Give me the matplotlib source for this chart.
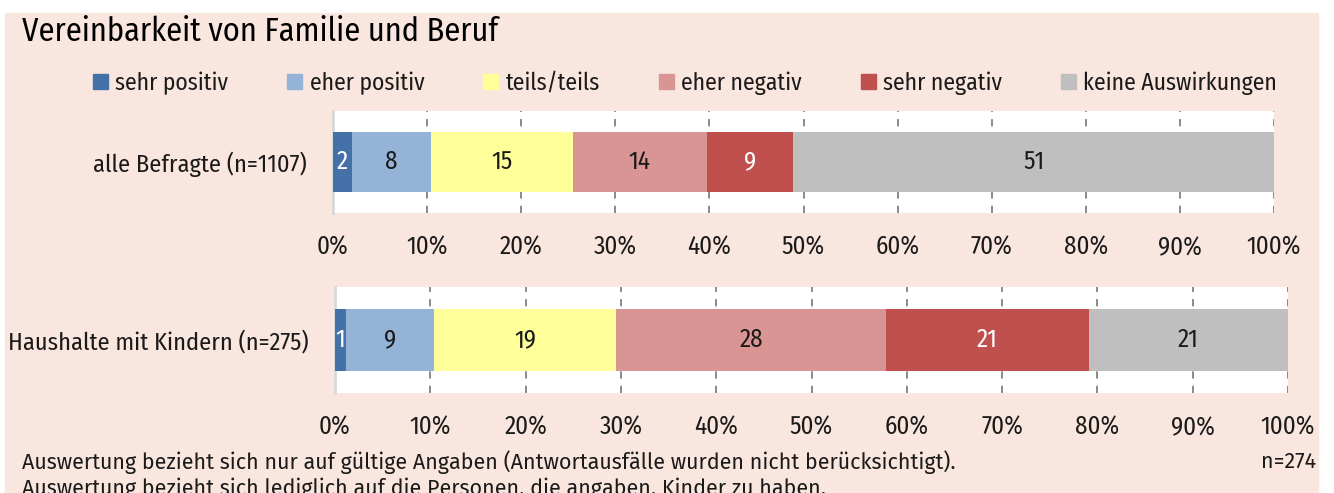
import matplotlib.pyplot as plt
from matplotlib.patches import Rectangle, Patch

# data (percent)
categories = ['sehr positiv', 'eher positiv', 'teils/teils', 'eher negativ', 'sehr negativ', 'keine Auswirkungen']
colors = ['#4472A8', '#95B3D7', '#FFFF99', '#D99594', '#C0504D', '#BFBFBF']
label_colors = ['white', '#1a1a1a', '#1a1a1a', '#1a1a1a', 'white', '#1a1a1a']

group_labels = ['alle Befragte (n=1107)', 'Haushalte mit Kindern (n=275)']
values_all = [2.0, 8.4, 15.1, 14.2, 9.2, 51.1]
values_kids = [1.2, 9.2, 19.1, 28.3, 21.3, 20.9]
ticks = [0, 10, 20, 30, 40, 50, 60, 70, 80, 90, 100]
tick_labels = ['0%', '10%', '20%', '30%', '40%', '50%', '60%', '70%', '80%', '90%', '100%']

BG = '#F9E6DF'
INK = '#1a1a1a'
NARROW = ['Fira Sans Condensed', 'Barlow Semi Condensed', 'Archivo Narrow', 'DejaVu Sans']
REGULAR = ['Fira Sans', 'DejaVu Sans']


def draw_bar(ax, label, values):
    left = 0
    for v, c, lc in zip(values, colors, label_colors):
        ax.barh(0, v, left=left, height=0.58, color=c, zorder=3)
        ax.text(left + v / 2, 0, '%d' % round(v), ha='center', va='center',
                color=lc, fontsize=18, family=NARROW, zorder=4)
        left += v
    ax.set_xlim(0, 100)
    ax.set_ylim(-0.5, 0.5)
    ax.set_facecolor('white')
    ax.set_yticks([0])
    ax.set_yticklabels([label], family=NARROW, fontsize=17.5, color=INK)
    ax.set_xticks(ticks)
    ax.set_xticklabels(tick_labels, family=NARROW, fontsize=18, color=INK)
    ax.tick_params(axis='both', length=0)
    ax.tick_params(axis='y', pad=19)
    ax.tick_params(axis='x', pad=16)
    for s in ['top', 'right', 'bottom']:
        ax.spines[s].set_visible(False)
    ax.spines['left'].set_color('#D9D9D9')
    ax.spines['left'].set_linewidth(2)
    ax.set_axisbelow(True)
    for t in ticks[1:]:
        ax.axvline(t, color='#808080', linewidth=1.3, linestyle=(0, (4, 4)), zorder=1)


fig = plt.figure(figsize=(13.34, 4.93), dpi=100)
fig.patch.set_facecolor('white')
fig.patches.append(Rectangle((5 / 1334, 0), 1313 / 1334, 480 / 493,
                             transform=fig.transFigure, color=BG, zorder=-1))

ax1 = fig.add_axes([333 / 1334, 1 - 213 / 493, 941 / 1334, 102 / 493])
ax2 = fig.add_axes([335 / 1334, 1 - 393 / 493, 953 / 1334, 106 / 493])
draw_bar(ax1, group_labels[0], values_all)
draw_bar(ax2, group_labels[1], values_kids)

fig.text(22 / 1334, 1 - 32 / 493, 'Vereinbarkeit von Familie und Beruf', fontsize=23.3,
         family=NARROW, va='center', ha='left', color='black')

handles = [Patch(color=c) for c in colors]
fig.legend(handles, categories, loc='center', bbox_to_anchor=(685 / 1334, 1 - 83 / 493),
           ncol=6, frameon=False, prop={'family': NARROW, 'size': 17}, labelcolor=INK,
           handlelength=0.64, handleheight=0.64, handletextpad=0.3, columnspacing=2.5)

fig.text(22 / 1334, 1 - 462 / 493,
         'Auswertung bezieht sich nur auf gültige Angaben (Antwortausfälle wurden nicht berücksichtigt).',
         fontsize=15.5, family=REGULAR, va='center', ha='left', color=INK)
fig.text(1316 / 1334, 1 - 462 / 493, 'n=274', fontsize=15.5, family=REGULAR, va='center', ha='right', color=INK)
fig.text(22 / 1334, 1 - 489 / 493,
         'Auswertung bezieht sich lediglich auf die Personen, die angaben, Kinder zu haben.',
         fontsize=15.5, family=REGULAR, va='center', ha='left', color=INK)

fig.savefig('out.png', dpi=100, facecolor=fig.get_facecolor())
